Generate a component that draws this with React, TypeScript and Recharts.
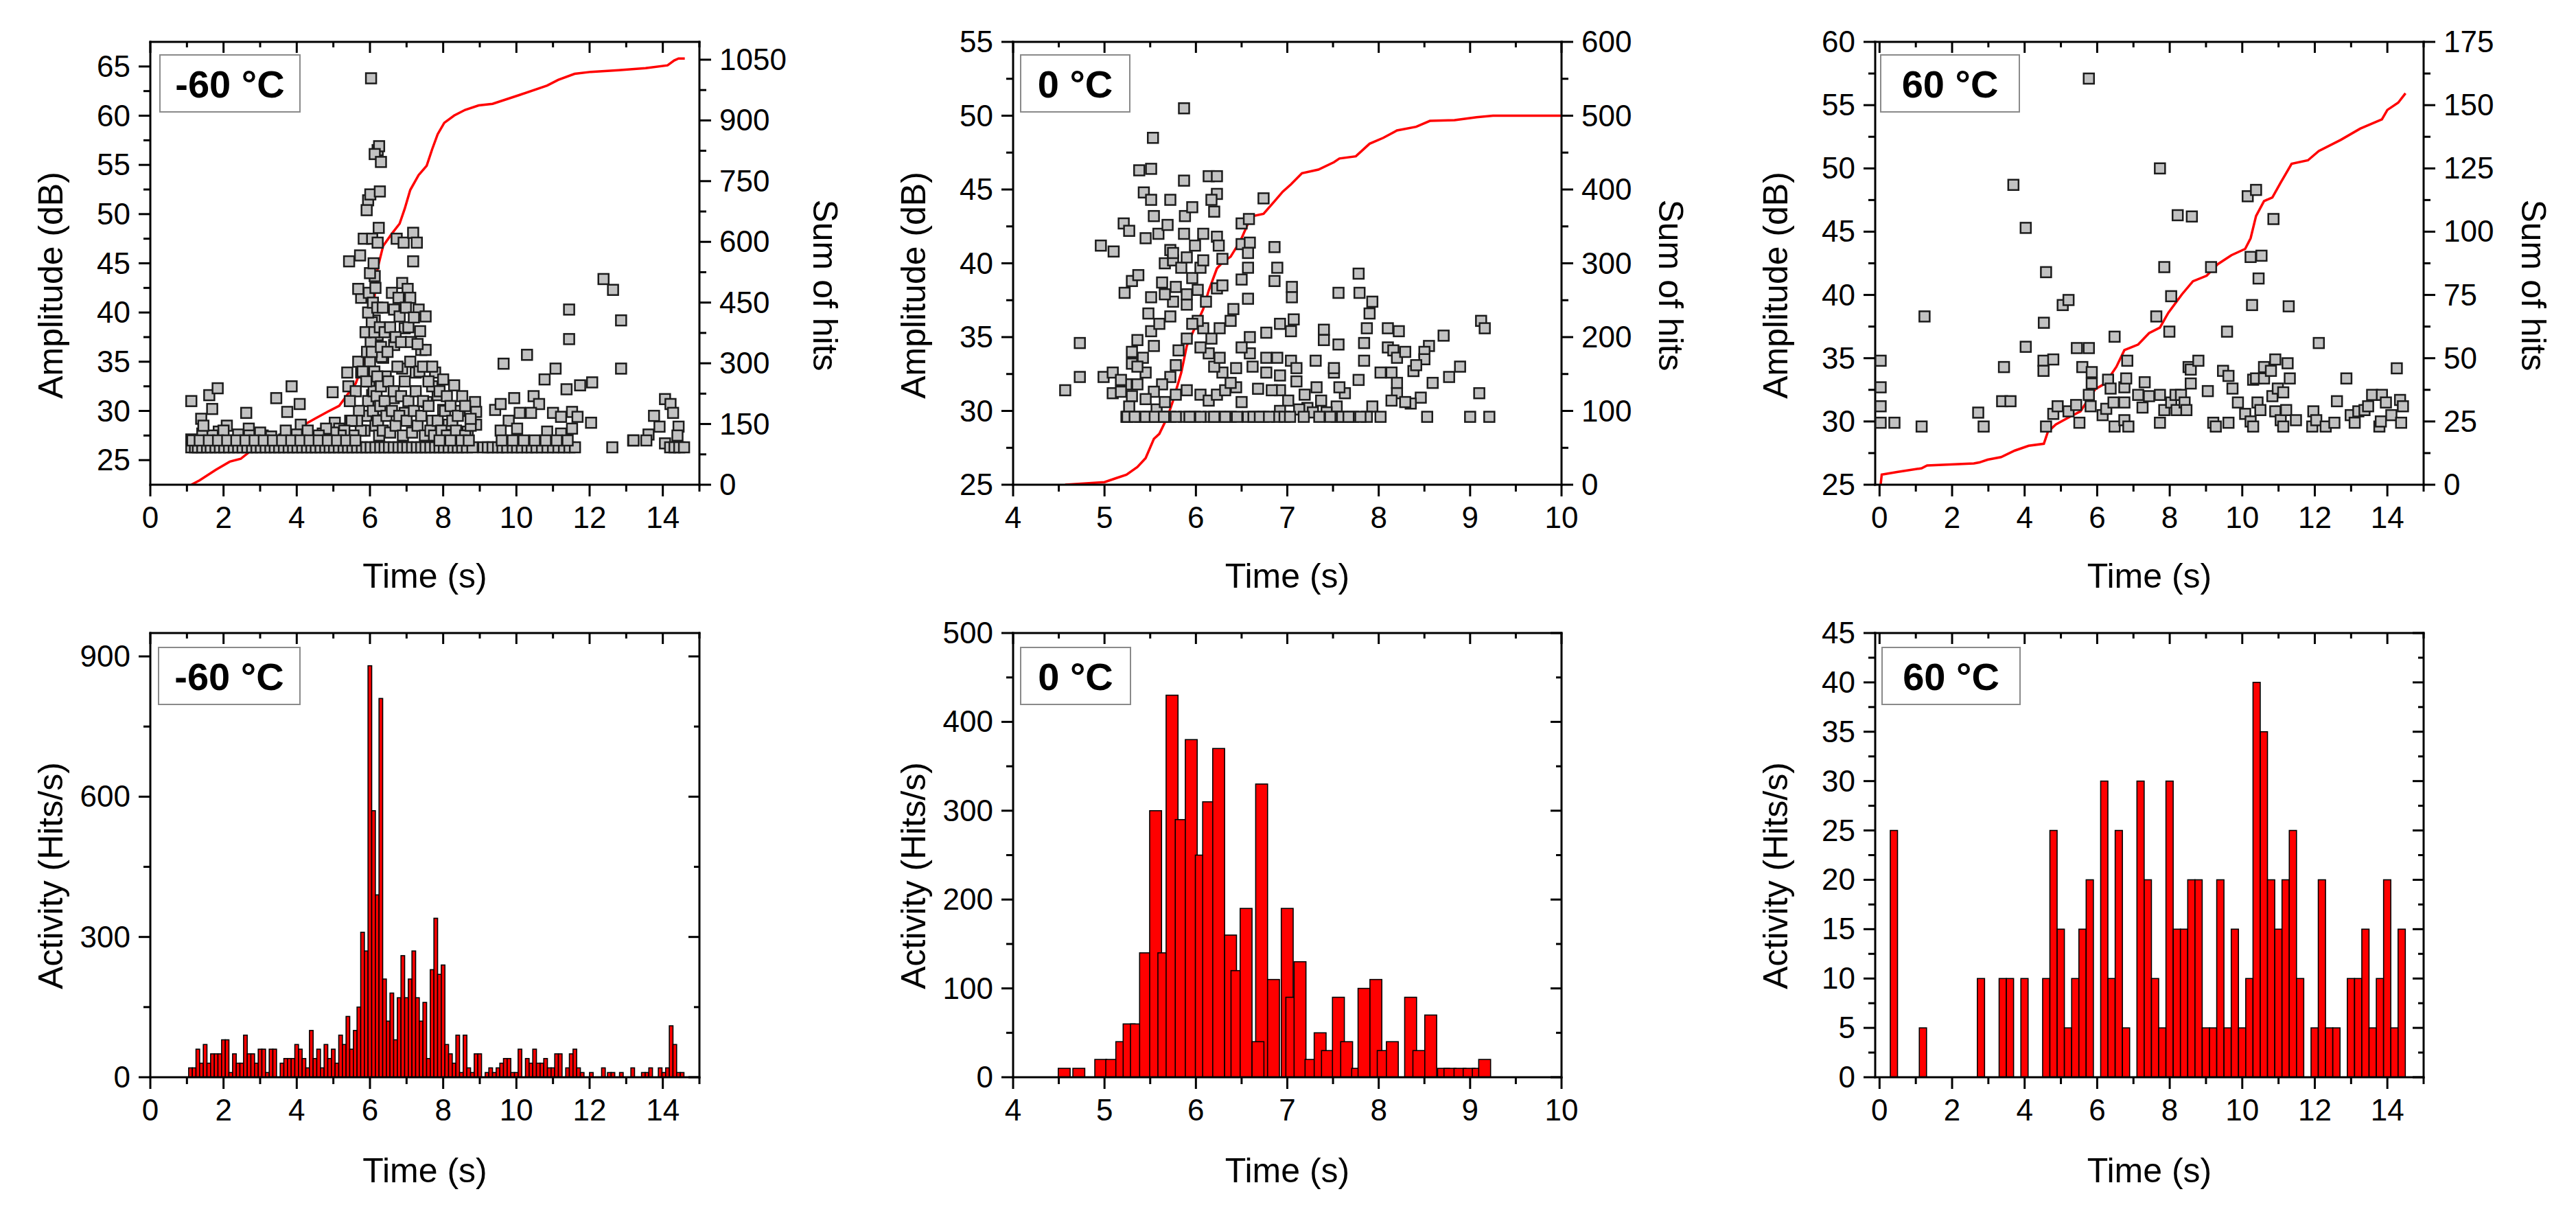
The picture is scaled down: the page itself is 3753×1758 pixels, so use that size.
import { Bar, BarChart, ComposedChart, Line, Scatter, XAxis, YAxis } from 'recharts';

const FONT = '"Liberation Sans", Arial, Helvetica, sans-serif';
const INK = '#000';
const RED = '#ff0000';
const LEFT_W = 200; // left axis band (labels + title)
const TOP_H = 40; // margin.top + top axis height

// ---------- -60 °C : amplitude scatter ----------
const m60Hits: [number, number][] = [
  [1.12, 31.0], [1.39, 29.2], [1.61, 31.6], [1.69, 30.2], [1.84, 32.3], [1.42, 27.7], [1.12, 27.1],
  [2.09, 28.5], [1.87, 27.9], [2.62, 29.8], [2.69, 28.2], [3.44, 31.3], [3.86, 32.5], [3.74, 29.9],
  [4.08, 30.7], [4.11, 28.6], [4.98, 31.9], [5.04, 28.8], [5.38, 33.9], [5.41, 32.5], [5.43, 45.2],
  [5.73, 45.8], [5.83, 47.5], [6.03, 63.8], [6.21, 56.5], [6.25, 56.9], [6.13, 56.1], [6.3, 55.3],
  [5.95, 51.4], [5.91, 50.4], [6.01, 52.0], [6.27, 52.3], [6.24, 48.6], [6.06, 47.5], [6.21, 47.1],
  [6.73, 47.5], [6.92, 47.1], [7.18, 48.1], [7.28, 47.1], [7.18, 45.2], [6.88, 43.0], [7.03, 42.4],
  [7.1, 41.5], [7.33, 40.3], [7.52, 39.6], [6.95, 38.4], [7.37, 38.1], [7.4, 36.2], [7.52, 36.2],
  [5.76, 41.5], [5.68, 42.4], [6.13, 43.7], [6.13, 39.2], [6.66, 40.3], [6.81, 39.6], [6.21, 37.7],
  [6.66, 36.7], [6.36, 35.4], [5.68, 35.0], [5.76, 33.9], [6.43, 33.5], [6.88, 34.3], [7.25, 33.9],
  [7.78, 33.9], [8.0, 33.2], [8.3, 32.6], [8.52, 31.5], [8.87, 30.9], [8.9, 29.9], [8.9, 28.6],
  [8.67, 27.9], [8.45, 27.1], [8.0, 30.1], [7.7, 29.0], [8.15, 28.6], [7.85, 31.6], [7.55, 30.9],
  [6.65, 31.3], [6.95, 29.8], [6.36, 30.1], [6.06, 31.6], [5.61, 32.0], [5.46, 29.0], [5.16, 28.2],
  [4.71, 27.7], [4.49, 27.1], [3.66, 27.1], [3.07, 27.5], [2.32, 26.7], [1.79, 27.3], [9.65, 34.8],
  [10.29, 35.7], [11.44, 40.3], [11.44, 37.3], [12.38, 43.4], [12.64, 42.3], [12.86, 39.2],
  [12.86, 34.3], [11.07, 34.3], [10.77, 33.2], [11.37, 32.2], [11.74, 32.6], [12.07, 32.9],
  [12.04, 28.8], [13.19, 27.0], [13.61, 27.6], [13.76, 29.5], [14.06, 31.2], [14.21, 30.7],
  [14.28, 29.8], [14.43, 28.4], [14.4, 27.5], [13.91, 28.4], [14.06, 26.7], [9.42, 30.1],
  [9.57, 30.7], [9.94, 31.3], [10.47, 31.5], [10.62, 30.7], [10.09, 29.8], [9.79, 29.0],
  [10.4, 29.8], [11.0, 29.8], [11.22, 29.4], [11.52, 29.9], [11.67, 29.4], [10.84, 27.9],
  [11.22, 27.7], [10.02, 28.2], [9.57, 28.0], [11.52, 28.2],
  // dense burst around 6-8 s
  [5.85, 28], [5.9, 29.5], [5.95, 31], [5.98, 33], [6.0, 35], [6.02, 37], [6.05, 39], [5.92, 36],
  [5.88, 38], [6.08, 30], [6.1, 32], [6.12, 34], [6.15, 28.5], [6.18, 31.5], [6.2, 33.5], [6.22, 29],
  [6.25, 27.5], [6.28, 30.5], [6.3, 32.5], [6.32, 35.5], [6.35, 28], [6.4, 31], [6.45, 29.5],
  [6.5, 33], [6.55, 27.8], [6.6, 30], [6.65, 32], [6.7, 28.5], [6.75, 34.5], [6.8, 29.5],
  [6.85, 31.5], [6.9, 27.5], [6.95, 33], [7.0, 29], [7.05, 31], [7.1, 35], [7.15, 27.8], [7.2, 30],
  [7.25, 32], [7.3, 28.5], [7.35, 34], [7.4, 29.5], [7.45, 31], [7.5, 27.5], [7.6, 30.5], [7.65, 28],
  [7.7, 32.5], [7.75, 27.5], [7.85, 29], [7.95, 28], [8.05, 30], [8.1, 27.5], [8.25, 29], [8.35, 28],
  [8.45, 30], [8.6, 27.5], [8.75, 28.5], [5.7, 30], [5.75, 28], [5.8, 34], [5.65, 29], [5.55, 27.5],
  [5.5, 29], [5.45, 31], [5.3, 28], [5.2, 27.5], [5.0, 27.8], [4.8, 28.2], [4.6, 27.5], [4.3, 28],
  [4.0, 27.6], [3.7, 28], [3.3, 27.4], [3.0, 27.8], [2.7, 27.5], [2.4, 27.6], [2.0, 28], [1.7, 27.5],
  [1.45, 28.5], [5.95, 40], [5.97, 42], [6.0, 44], [6.08, 41], [6.1, 45], [6.15, 42.5], [6.05, 36],
  [6.12, 38], [5.9, 33], [6.2, 40.5], [6.27, 38.5], [6.3, 36.5], [6.35, 40.5], [6.4, 38], [6.48, 36],
  [6.55, 38.5], [6.6, 42], [6.7, 37.5], [6.78, 41.5], [6.85, 37], [6.98, 40.5], [7.05, 38.5],
  [7.12, 37], [7.2, 39.5], [7.3, 36.8], [7.45, 34.5], [7.6, 33], [7.7, 34.5], [7.9, 32], [8.1, 31.5],
  [8.2, 30.5], [8.4, 29.5], [8.6, 30.5], [8.75, 29.2],
];
// hits sitting on the 26.3 dB threshold row
const m60FloorTimes = [
  1.12, 1.22, 1.3, 1.42, 1.55, 1.65, 1.78, 1.9, 2.02, 2.15, 2.28, 2.4, 2.52, 2.65, 2.78, 2.9, 3.02,
  3.15, 3.28, 3.4, 3.52, 3.65, 3.78, 3.9, 4.02, 4.15, 4.28, 4.4, 4.52, 4.65, 4.78, 4.9, 5.02, 5.15,
  5.28, 5.4, 5.52, 5.65, 5.78, 5.9, 6.02, 6.15, 6.28, 6.4, 6.52, 6.65, 6.78, 6.9, 7.02, 7.15, 7.28,
  7.4, 7.52, 7.65, 7.78, 7.9, 8.02, 8.15, 8.28, 8.4, 8.52, 8.65, 8.8, 9.1, 9.22, 9.35, 9.5, 9.62,
  9.75, 9.9, 10.02, 10.15, 10.3, 10.42, 10.55, 10.7, 10.85, 11.0, 11.15, 11.3, 11.45, 11.6, 12.62,
  14.2, 14.32, 14.45, 14.58,
];
const m60SecondRowTimes = [
  1.15, 1.35, 1.6, 1.85, 2.1, 2.35, 2.6, 2.85, 3.1, 3.35, 3.6, 3.85, 4.1, 4.35, 4.6, 4.85, 5.1, 5.35,
  5.6, 7.9, 8.2, 8.5, 8.7, 9.6, 9.9, 10.2, 10.5, 10.8, 11.1, 11.4, 13.2, 13.55,
];
const m60Sum: [number, number][] = [
  [1.12, 0], [1.35, 11], [1.79, 37], [2.17, 57], [2.47, 64], [2.69, 80], [3.21, 108], [3.66, 121],
  [4.04, 140], [4.49, 163], [4.86, 181], [5.16, 195], [5.38, 222], [5.61, 250], [5.76, 287],
  [5.91, 324], [6.03, 370], [6.1, 443], [6.21, 535], [6.36, 590], [6.58, 618], [6.81, 645],
  [6.95, 682], [7.1, 728], [7.33, 765], [7.55, 788], [7.7, 829], [7.85, 866], [8.03, 894],
  [8.3, 912], [8.6, 926], [8.97, 937], [9.35, 941], [10.09, 963], [10.84, 986], [11.14, 1000],
  [11.59, 1015], [12.04, 1020], [12.79, 1024], [13.53, 1029], [14.13, 1036], [14.31, 1048],
  [14.43, 1053], [14.6, 1053],
];

// ---------- 0 °C ----------
const z0Hits: [number, number][] = [
  [4.57, 31.4], [4.73, 34.6], [4.73, 32.3], [4.96, 41.2], [5.1, 40.8], [4.99, 32.3], [5.09, 32.6],
  [5.09, 31.2], [5.21, 42.7], [5.27, 42.2], [5.24, 29.6], [5.22, 38.0], [5.3, 38.8], [5.3, 34.0],
  [5.3, 33.2], [5.37, 39.2], [5.38, 46.3], [5.51, 46.4], [5.53, 48.5], [5.43, 44.8], [5.51, 44.3],
  [5.54, 43.2], [5.45, 41.7], [5.59, 42.0], [5.72, 44.3], [5.87, 50.5], [5.87, 45.6], [5.88, 43.2],
  [5.96, 43.8], [5.87, 42.0], [5.69, 42.6], [5.72, 40.9], [5.66, 40.0], [5.75, 40.2], [5.84, 39.7],
  [5.96, 39.0], [6.14, 45.9], [6.23, 45.9], [6.23, 44.7], [6.17, 44.3], [6.2, 43.5], [6.08, 42.0],
  [6.23, 41.8], [6.25, 41.2], [6.29, 40.3], [6.23, 38.3], [6.29, 38.5], [6.5, 42.7], [6.5, 41.3],
  [6.58, 43.0], [6.59, 41.4], [6.57, 40.7], [6.57, 39.7], [6.5, 38.9], [6.57, 37.6], [6.74, 44.4],
  [6.86, 41.1], [6.89, 39.7], [6.86, 38.8], [7.05, 38.4], [7.05, 37.7], [7.07, 36.2], [6.92, 35.9],
  [7.04, 35.4], [6.77, 35.3], [7.56, 38.0], [7.56, 34.5], [7.4, 35.5], [7.4, 34.8], [7.78, 39.3],
  [7.79, 38.0], [7.93, 37.4], [7.9, 36.6], [7.87, 35.6], [7.84, 34.6], [8.1, 35.6], [8.22, 35.4],
  [8.1, 34.3], [8.16, 34.1], [8.55, 34.4], [8.5, 34.0], [8.71, 35.1], [8.5, 33.5], [8.38, 32.7],
  [8.89, 33.0], [8.77, 32.3], [8.59, 31.9], [8.46, 30.9], [8.35, 30.5], [8.53, 29.6], [9.0, 29.6],
  [9.21, 29.6], [9.12, 36.1], [9.16, 35.6], [9.1, 31.2], [7.84, 33.4], [8.02, 32.6], [8.14, 32.6],
  [8.2, 31.9], [8.2, 31.2], [7.93, 30.3], [8.02, 29.6], [7.78, 32.1], [7.63, 31.2], [7.51, 32.6],
  [7.57, 31.6], [7.54, 30.3], [7.54, 29.6], [7.72, 29.6], [7.87, 29.6], [7.51, 32.9], [7.31, 33.4],
  [7.32, 31.6], [7.37, 30.7], [7.22, 30.2], [7.13, 30.1], [7.1, 32.0], [7.04, 33.4], [7.1, 32.9],
  [6.92, 32.4], [6.92, 31.4], [7.01, 30.7], [6.92, 30.0], [6.74, 29.6], [6.89, 29.6], [6.77, 33.6],
  [6.89, 33.6], [6.77, 32.6], [6.83, 31.4], [6.68, 31.5], [6.62, 33.0], [6.59, 33.9], [6.59, 35.0],
  [6.5, 34.3], [6.44, 32.9], [6.44, 31.6], [6.5, 30.6], [6.57, 29.6], [6.38, 29.6], [6.26, 29.6],
  [6.14, 29.6], [5.99, 29.6], [5.87, 29.6], [5.72, 29.6], [5.6, 29.6], [5.48, 29.6], [5.39, 29.6],
  [5.57, 30.1], [5.66, 30.6], [5.78, 31.1], [5.9, 31.4], [6.05, 31.1], [6.14, 30.7], [6.23, 31.1],
  [6.32, 31.4], [6.38, 31.9], [6.29, 32.6], [6.2, 33.0], [6.26, 33.6], [6.14, 33.9], [6.05, 34.3],
  [6.17, 34.9], [6.26, 35.6], [6.38, 36.1], [6.41, 36.9], [6.08, 35.6], [6.02, 36.1], [6.11, 37.4],
  [5.9, 37.2], [5.96, 35.9], [5.9, 34.9], [5.81, 34.1], [5.78, 33.1], [5.72, 32.3], [5.63, 31.8],
  [5.54, 31.3], [5.45, 30.8], [5.36, 31.8], [5.45, 32.6], [5.42, 33.6], [5.54, 34.4], [5.51, 35.4],
  [5.6, 35.9], [5.72, 36.4], [5.75, 37.4], [5.66, 37.9], [5.51, 37.7], [5.48, 36.6], [5.63, 38.7],
  [5.78, 38.4], [5.9, 37.9], [6.02, 38.2], [6.05, 39.7], [6.08, 40.2], [5.9, 40.4], [5.75, 40.7],
  [5.99, 41.2], [5.24, 31.8], [5.18, 31.3], [5.3, 31.0], [5.27, 30.3], [5.18, 32.1], [5.36, 34.8],
  [5.36, 33.0], [7.28, 29.9], [7.43, 29.9], [7.19, 31.1], [8.14, 30.7], [8.29, 30.6], [8.2, 33.6],
  [8.41, 33.1], [8.29, 34.0],
];
const z0FloorTimes = [
  5.25, 5.33, 5.45, 5.55, 5.65, 5.78, 5.93, 6.05, 6.2, 6.32, 6.45, 6.63, 6.7, 6.8, 6.97, 7.03, 7.18,
  7.35, 7.47, 7.6, 7.67, 7.8,
];
const z0Sum: [number, number][] = [
  [4.57, 0], [5.0, 3.5], [5.12, 8.6], [5.24, 13.6], [5.36, 24], [5.45, 36], [5.54, 62], [5.6, 69],
  [5.69, 92], [5.75, 114], [5.84, 152], [5.9, 188], [5.99, 213], [6.08, 238], [6.14, 263],
  [6.23, 293], [6.29, 301], [6.38, 309], [6.44, 321], [6.5, 334], [6.57, 354], [6.62, 364],
  [6.74, 367], [6.86, 384], [6.95, 397], [7.04, 407], [7.16, 422], [7.34, 427], [7.51, 437],
  [7.57, 442], [7.75, 445], [7.9, 462], [8.05, 470], [8.2, 480], [8.41, 485], [8.56, 493],
  [8.83, 494], [9.07, 498], [9.25, 500], [10, 500],
];

// ---------- 60 °C ----------
const p60Hits: [number, number][] = [
  [0.03, 34.8], [0.03, 32.7], [0.03, 31.2], [0.03, 29.9], [0.41, 29.9], [1.24, 38.3], [1.16, 29.6],
  [2.72, 30.7], [2.87, 29.6], [3.43, 34.3], [3.38, 31.6], [3.61, 31.6], [3.69, 48.7], [4.03, 45.3],
  [4.03, 35.9], [4.53, 37.8], [4.52, 34.8], [4.52, 34.0], [4.59, 41.8], [4.59, 29.6], [4.79, 34.9],
  [4.79, 30.6], [4.91, 31.2], [5.05, 39.2], [5.21, 39.6], [5.21, 30.8], [5.42, 31.3], [5.44, 35.8],
  [5.77, 35.8], [5.51, 29.9], [5.59, 34.3], [5.77, 57.1], [5.85, 33.9], [5.85, 33.0], [5.77, 32.1],
  [5.82, 31.2], [6.15, 30.5], [6.25, 31.0], [6.3, 33.3], [6.37, 32.6], [6.45, 31.5], [6.48, 29.6],
  [6.48, 36.7], [6.75, 31.5], [6.75, 32.7], [6.8, 33.4], [6.75, 30.1], [6.86, 29.6], [6.83, 34.8],
  [7.13, 32.1], [7.25, 31.1], [7.31, 33.1], [7.43, 32.0], [7.73, 50.0], [7.63, 38.3], [7.85, 42.2],
  [7.73, 32.1], [7.73, 29.9], [7.85, 30.9], [8.04, 39.9], [7.99, 37.1], [8.04, 31.5], [8.16, 32.1],
  [8.22, 46.3], [8.19, 30.9], [8.31, 32.1], [8.41, 31.5], [8.46, 30.9], [8.52, 34.3], [8.58, 34.1],
  [8.61, 46.2], [8.58, 33.0], [8.79, 34.8], [9.05, 32.4], [9.14, 42.2], [9.2, 29.9], [9.27, 29.6],
  [9.47, 34.0], [9.58, 37.1], [9.62, 33.6], [9.62, 29.9], [9.73, 32.6], [9.88, 31.5], [10.08, 30.6],
  [10.15, 47.8], [10.23, 30.0], [10.23, 43.0], [10.27, 39.2], [10.3, 29.6], [10.3, 33.3],
  [10.38, 48.3], [10.38, 33.4], [10.42, 31.5], [10.45, 41.3], [10.53, 43.1], [10.5, 30.9],
  [10.6, 33.4], [10.6, 34.3], [10.79, 34.0], [10.86, 46.0], [10.91, 34.9], [10.83, 32.0],
  [10.91, 30.8], [10.98, 32.6], [11.06, 30.1], [11.13, 32.3], [11.13, 29.6], [11.21, 30.9],
  [11.25, 34.6], [11.31, 33.4], [11.28, 39.1], [11.48, 30.1], [11.96, 30.8], [11.93, 29.6],
  [12.04, 30.1], [12.11, 36.2], [12.3, 29.6], [12.54, 29.9], [12.61, 31.6], [12.87, 33.4],
  [12.99, 30.5], [13.1, 29.9], [13.2, 30.8], [13.37, 30.9], [13.47, 31.2], [13.58, 32.1],
  [13.78, 29.6], [13.82, 30.0], [13.85, 32.1], [13.96, 31.5], [14.11, 30.5], [14.26, 34.2],
  [14.35, 31.7], [14.38, 29.9], [14.43, 31.2],
];
const p60Sum: [number, number][] = [
  [0.03, 0], [0.06, 4], [0.48, 5], [1.16, 6.5], [1.31, 7.6], [2.6, 8.4], [2.75, 8.8], [2.98, 9.9],
  [3.35, 10.9], [3.73, 13.5], [4.11, 15.4], [4.53, 16.2], [4.64, 20.9], [4.86, 23.8], [5.24, 26.8],
  [5.54, 29.0], [5.77, 34.1], [5.95, 37.8], [6.22, 40.0], [6.53, 46.6], [6.75, 53.2], [7.13, 55.4],
  [7.43, 59.9], [7.73, 62.1], [7.96, 67.9], [8.34, 75.3], [8.64, 80.4], [9.02, 82.6], [9.32, 87.1],
  [9.7, 90.7], [10.08, 93.2], [10.23, 97.4], [10.38, 106.2], [10.6, 112.1], [10.83, 113.5],
  [11.06, 119.4], [11.36, 126.8], [11.81, 128.2], [12.11, 131.9], [12.72, 136.3], [13.25, 140.7],
  [13.85, 144.4], [14.0, 148.1], [14.3, 151.0], [14.5, 154.7],
];

// ---------- activity histograms (time, hits/s) ----------
const m60Rate: [number, number][] = [
  [1.1, 20], [1.2, 20], [1.3, 60], [1.4, 30], [1.5, 70], [1.6, 30], [1.7, 50], [1.8, 50], [1.9, 50],
  [2.0, 80], [2.1, 80], [2.2, 10], [2.3, 50], [2.4, 30], [2.5, 30], [2.6, 90], [2.7, 50], [2.8, 50],
  [2.9, 30], [3.0, 60], [3.1, 60], [3.2, 10], [3.3, 60], [3.4, 60], [3.5, 0], [3.6, 30], [3.7, 40],
  [3.8, 40], [3.9, 40], [4.0, 70], [4.1, 60], [4.2, 40], [4.3, 20], [4.4, 100], [4.5, 40], [4.6, 60],
  [4.7, 20], [4.8, 70], [4.9, 40], [5.0, 60], [5.1, 30], [5.2, 90], [5.3, 70], [5.4, 130], [5.5, 60],
  [5.6, 100], [5.7, 150], [5.8, 310], [5.9, 270], [6.0, 880], [6.1, 570], [6.2, 390], [6.3, 810],
  [6.4, 210], [6.5, 120], [6.6, 180], [6.7, 80], [6.8, 170], [6.9, 260], [7.0, 170], [7.1, 210],
  [7.2, 270], [7.3, 170], [7.4, 120], [7.5, 160], [7.6, 40], [7.7, 230], [7.8, 340], [7.9, 220],
  [8.0, 240], [8.1, 70], [8.2, 50], [8.3, 30], [8.4, 90], [8.5, 10], [8.6, 90], [8.7, 20], [8.8, 10],
  [8.9, 50], [9.0, 50], [9.1, 0], [9.2, 10], [9.3, 20], [9.4, 10], [9.5, 20], [9.6, 30], [9.7, 40],
  [9.8, 40], [9.9, 10], [10.0, 10], [10.1, 60], [10.2, 0], [10.3, 40], [10.4, 30], [10.5, 60],
  [10.6, 30], [10.7, 30], [10.8, 40], [10.9, 20], [11.0, 20], [11.1, 50], [11.2, 50], [11.3, 0],
  [11.4, 20], [11.5, 50], [11.6, 60], [11.7, 20], [11.8, 10], [12.05, 10], [12.38, 20], [12.54, 10],
  [12.64, 10], [12.87, 10], [13.18, 20], [13.47, 10], [13.57, 10], [13.67, 20], [13.93, 20],
  [14.03, 10], [14.13, 20], [14.23, 110], [14.33, 70], [14.43, 10], [14.53, 10],
];
const z0Rate: [number, number][] = [
  [4.56, 10], [4.72, 10], [4.96, 20], [5.08, 20], [5.19, 40], [5.27, 60], [5.35, 60], [5.45, 140],
  [5.56, 300], [5.65, 140], [5.74, 430], [5.84, 290], [5.95, 380], [6.06, 250], [6.14, 310],
  [6.25, 370], [6.38, 160], [6.45, 120], [6.55, 190], [6.72, 330], [6.68, 40], [6.85, 110],
  [7.0, 190], [7.05, 90], [7.14, 130], [7.26, 20], [7.36, 50], [7.44, 30], [7.56, 90], [7.65, 40],
  [7.77, 10], [7.84, 100], [7.97, 110], [8.05, 30], [8.15, 40], [8.35, 90], [8.44, 30], [8.57, 70],
  [8.71, 10], [8.78, 10], [8.89, 10], [8.99, 10], [9.09, 10], [9.16, 20],
];
const p60Rate: [number, number][] = [
  [0.4, 25], [1.2, 5], [2.8, 10], [3.4, 10], [3.6, 10], [4.0, 10], [4.6, 10], [4.8, 25], [5.0, 15],
  [5.2, 5], [5.4, 10], [5.6, 15], [5.8, 20], [6.2, 30], [6.4, 10], [6.6, 25], [6.8, 5], [7.2, 30],
  [7.4, 20], [7.6, 10], [7.8, 5], [8.0, 30], [8.2, 15], [8.4, 15], [8.6, 20], [8.8, 20], [9.0, 5],
  [9.2, 5], [9.4, 20], [9.6, 5], [9.8, 15], [10.0, 5], [10.2, 10], [10.4, 40], [10.6, 35],
  [10.8, 20], [11.0, 15], [11.2, 20], [11.4, 25], [11.6, 10], [12.0, 5], [12.2, 20], [12.4, 5],
  [12.6, 5], [13.0, 10], [13.2, 10], [13.4, 15], [13.6, 5], [13.8, 10], [14.0, 20], [14.2, 5],
  [14.4, 15],
];

// ---------- axis ticks ----------
const timeMajor15 = [0, 2, 4, 6, 8, 10, 12, 14];
const timeMinor15 = [1, 3, 5, 7, 9, 11, 13, 15];
const timeMajor0 = [4, 5, 6, 7, 8, 9, 10];
const timeMinor0 = [4.5, 5.5, 6.5, 7.5, 8.5, 9.5];
const ampMajorM60 = [25, 30, 35, 40, 45, 50, 55, 60, 65];
const ampMinorM60 = [27.5, 32.5, 37.5, 42.5, 47.5, 52.5, 57.5, 62.5];
const sumMajorM60 = [0, 150, 300, 450, 600, 750, 900, 1050];
const sumMinorM60 = [75, 225, 375, 525, 675, 825, 975];
const ampMajor0 = [25, 30, 35, 40, 45, 50, 55];
const ampMinor0 = [27.5, 32.5, 37.5, 42.5, 47.5, 52.5];
const sumMajor0 = [0, 100, 200, 300, 400, 500, 600];
const sumMinor0 = [50, 150, 250, 350, 450, 550];
const ampMajor60 = [25, 30, 35, 40, 45, 50, 55, 60];
const ampMinor60 = [27.5, 32.5, 37.5, 42.5, 47.5, 52.5, 57.5];
const sumMajor60 = [0, 25, 50, 75, 100, 125, 150, 175];
const sumMinor60 = [12.5, 37.5, 62.5, 87.5, 112.5, 137.5, 162.5];
const rateMajorM60 = [0, 300, 600, 900];
const rateMinorM60 = [150, 450, 750];
const rateMajor0 = [0, 100, 200, 300, 400, 500];
const rateMinor0 = [50, 150, 250, 350, 450];
const rateMajor60 = [0, 5, 10, 15, 20, 25, 30, 35, 40, 45];
const rateMinor60 = [2.5, 7.5, 12.5, 17.5, 22.5, 27.5, 32.5, 37.5, 42.5];

const AXIS_LINE = { stroke: INK, strokeWidth: 3, strokeLinecap: 'square' as const };

const hasTick = (list: number[], v: number) => list.some((m) => Math.abs(m - v) < 1e-6);
const merge = (a: number[], b: number[]) => [...a, ...b].sort((p, q) => p - q);

function renderXTick(props: any, major: number[], side: 'bottom' | 'top') {
  const { x, y, payload } = props;
  const v = payload.value as number;
  const big = hasTick(major, v);
  const len = side === 'bottom' ? (big ? 17 : 10) : big ? 16 : 8;
  return (
    <g>
      <line x1={x} x2={x} y1={y} y2={y + len} stroke={INK} strokeWidth={3} />
      {side === 'bottom' && big ? (
        <text x={x} y={y + 63} textAnchor="middle" fontFamily={FONT} fontSize={44} fill={INK}>
          {v}
        </text>
      ) : null}
    </g>
  );
}

function renderYTick(props: any, major: number[], side: 'left' | 'right', inward: boolean) {
  const { x, y, payload } = props;
  const v = payload.value as number;
  const big = hasTick(major, v);
  const len = inward ? (big ? 16 : 8) : big ? 17 : 10;
  const dir = side === 'left' ? -1 : 1;
  const s = inward ? -dir : dir;
  return (
    <g>
      <line x1={x} x2={x + s * len} y1={y} y2={y} stroke={INK} strokeWidth={3} />
      {!inward && big ? (
        <text
          x={x + dir * 29}
          y={y + 15}
          textAnchor={side === 'left' ? 'end' : 'start'}
          fontFamily={FONT}
          fontSize={44}
          fill={INK}
        >
          {v}
        </text>
      ) : null}
    </g>
  );
}

function AxisTitle({ tx, ty, rot = 0, text }: { tx: number; ty: number; rot?: number; text: string }) {
  return (
    <text
      x={tx}
      y={ty}
      transform={rot ? `rotate(${rot} ${tx} ${ty})` : undefined}
      textAnchor="middle"
      dominantBaseline={rot ? 'central' : 'auto'}
      fontFamily={FONT}
      fontSize={50}
      fill={INK}
    >
      {text}
    </text>
  );
}

function TagBox({ bx, by, bw, text }: { bx: number; by: number; bw: number; text: string }) {
  return (
    <g>
      <rect x={bx} y={by} width={bw} height={83} fill="none" stroke="#8a8a8a" strokeWidth={2} />
      <text
        x={bx + bw / 2}
        y={by + 62}
        textAnchor="middle"
        fontFamily={FONT}
        fontSize={56}
        fontWeight="bold"
        fill={INK}
      >
        {text}
      </text>
    </g>
  );
}

function renderSquare(props: any) {
  const { cx, cy } = props;
  if (cx == null || cy == null) return <g />;
  return (
    <rect x={cx - 7.5} y={cy - 7.5} width={15} height={15} fill="#c2c2c2" stroke="#1c1c1c" strokeWidth={2.5} />
  );
}

// bars keep the library's x centre and height, but use the bin width
function renderBin(props: any, w: number) {
  const { x, y, width, height } = props;
  if (!height || height <= 0) return <g />;
  const cx = x + width / 2;
  return <rect x={cx - w / 2} y={y} width={w} height={height} fill={RED} stroke={INK} strokeWidth={1.6} />;
}

interface PanelFrame {
  plotLeft: number;
  plotTop: number;
  plotW: number;
  plotH: number;
  xDomain: [number, number];
  xMajor: number[];
  xMinor: number[];
  tag: string;
  tagDx: number;
  tagW: number;
}

interface ScatterPanelProps extends PanelFrame {
  ampDomain: [number, number];
  ampMajor: number[];
  ampMinor: number[];
  sumDomain: [number, number];
  sumMajor: number[];
  sumMinor: number[];
  sumTitleDx: number;
  points: { t: number; a: number }[];
  sums: { t: number; s: number }[];
}

function ScatterPanel(p: ScatterPanelProps) {
  const rightW = 250;
  const bottomH = 170;
  const W = LEFT_W + p.plotW + rightW;
  const H = TOP_H + p.plotH + bottomH;
  const midY = TOP_H + p.plotH / 2 + 32;
  return (
    <div style={{ position: 'absolute', left: p.plotLeft - LEFT_W, top: p.plotTop - TOP_H }}>
      <ComposedChart width={W} height={H} margin={{ top: TOP_H - 2, right: 0, bottom: 0, left: 0 }}>
        <XAxis
          xAxisId="b"
          dataKey="t"
          type="number"
          domain={p.xDomain}
          allowDataOverflow
          ticks={merge(p.xMajor, p.xMinor)}
          interval={0}
          height={bottomH}
          tickSize={0}
          tickMargin={0}
          tickLine={false}
          axisLine={AXIS_LINE}
          tick={(t: any) => renderXTick(t, p.xMajor, 'bottom')}
          label={<AxisTitle tx={LEFT_W + p.plotW / 2} ty={TOP_H + p.plotH + 150} text="Time (s)" />}
        />
        <XAxis
          xAxisId="t"
          orientation="top"
          dataKey="t"
          type="number"
          domain={p.xDomain}
          allowDataOverflow
          ticks={merge(p.xMajor, p.xMinor)}
          interval={0}
          height={2}
          tickSize={0}
          tickMargin={0}
          tickLine={false}
          axisLine={AXIS_LINE}
          tick={(t: any) => renderXTick(t, p.xMajor, 'top')}
          label={<TagBox bx={LEFT_W + p.tagDx} by={TOP_H + 19} bw={p.tagW} text={p.tag} />}
        />
        <YAxis
          yAxisId="l"
          dataKey="a"
          type="number"
          domain={p.ampDomain}
          allowDataOverflow
          ticks={merge(p.ampMajor, p.ampMinor)}
          interval={0}
          width={LEFT_W}
          tickSize={0}
          tickMargin={0}
          tickLine={false}
          axisLine={AXIS_LINE}
          tick={(t: any) => renderYTick(t, p.ampMajor, 'left', false)}
          label={<AxisTitle tx={LEFT_W - 145} ty={midY} rot={-90} text="Amplitude (dB)" />}
        />
        <YAxis
          yAxisId="r"
          orientation="right"
          type="number"
          domain={p.sumDomain}
          allowDataOverflow
          ticks={merge(p.sumMajor, p.sumMinor)}
          interval={0}
          width={rightW}
          tickSize={0}
          tickMargin={0}
          tickLine={false}
          axisLine={AXIS_LINE}
          tick={(t: any) => renderYTick(t, p.sumMajor, 'right', false)}
          label={<AxisTitle tx={LEFT_W + p.plotW + p.sumTitleDx} ty={midY} rot={90} text="Sum of hits" />}
        />
        <Scatter
          xAxisId="b"
          yAxisId="l"
          data={p.points}
          dataKey="a"
          shape={renderSquare}
          isAnimationActive={false}
        />
        <Line
          xAxisId="b"
          yAxisId="r"
          data={p.sums}
          dataKey="s"
          type="linear"
          stroke={RED}
          strokeWidth={3.5}
          dot={false}
          activeDot={false}
          isAnimationActive={false}
        />
      </ComposedChart>
    </div>
  );
}

interface HistPanelProps extends PanelFrame {
  rateDomain: [number, number];
  rateMajor: number[];
  rateMinor: number[];
  barPx: number;
  bins: { t: number; v: number }[];
}

function HistPanel(p: HistPanelProps) {
  const rightW = 60;
  const bottomH = 180;
  const W = LEFT_W + p.plotW + rightW;
  const H = TOP_H + p.plotH + bottomH;
  const midY = TOP_H + p.plotH / 2 + 30;
  return (
    <div style={{ position: 'absolute', left: p.plotLeft - LEFT_W, top: p.plotTop - TOP_H }}>
      <BarChart width={W} height={H} data={p.bins} margin={{ top: TOP_H - 2, right: 0, bottom: 0, left: 0 }}>
        <XAxis
          xAxisId="b"
          dataKey="t"
          type="number"
          domain={p.xDomain}
          allowDataOverflow
          ticks={merge(p.xMajor, p.xMinor)}
          interval={0}
          height={bottomH}
          tickSize={0}
          tickMargin={0}
          tickLine={false}
          axisLine={AXIS_LINE}
          tick={(t: any) => renderXTick(t, p.xMajor, 'bottom')}
          label={<AxisTitle tx={LEFT_W + p.plotW / 2} ty={TOP_H + p.plotH + 153} text="Time (s)" />}
        />
        <XAxis
          xAxisId="t"
          orientation="top"
          dataKey="t"
          type="number"
          domain={p.xDomain}
          allowDataOverflow
          ticks={merge(p.xMajor, p.xMinor)}
          interval={0}
          height={2}
          tickSize={0}
          tickMargin={0}
          tickLine={false}
          axisLine={AXIS_LINE}
          tick={(t: any) => renderXTick(t, p.xMajor, 'top')}
          label={<TagBox bx={LEFT_W + p.tagDx} by={TOP_H + 21} bw={p.tagW} text={p.tag} />}
        />
        <YAxis
          yAxisId="l"
          type="number"
          domain={p.rateDomain}
          allowDataOverflow
          ticks={merge(p.rateMajor, p.rateMinor)}
          interval={0}
          width={LEFT_W}
          tickSize={0}
          tickMargin={0}
          tickLine={false}
          axisLine={AXIS_LINE}
          tick={(t: any) => renderYTick(t, p.rateMajor, 'left', false)}
          label={<AxisTitle tx={LEFT_W - 145} ty={midY} rot={-90} text="Activity (Hits/s)" />}
        />
        <YAxis
          yAxisId="r"
          orientation="right"
          type="number"
          domain={p.rateDomain}
          allowDataOverflow
          ticks={merge(p.rateMajor, p.rateMinor)}
          interval={0}
          width={rightW}
          tickSize={0}
          tickMargin={0}
          tickLine={false}
          axisLine={AXIS_LINE}
          tick={(t: any) => renderYTick(t, p.rateMajor, 'right', true)}
        />
        <Bar
          xAxisId="b"
          yAxisId="l"
          dataKey="v"
          fill={RED}
          stroke={INK}
          shape={(b: any) => renderBin(b, p.barPx)}
          isAnimationActive={false}
        />
      </BarChart>
    </div>
  );
}

const toHits = (rows: [number, number][]) => rows.map(([t, a]) => ({ t, a }));
const toSums = (rows: [number, number][]) => rows.map(([t, s]) => ({ t, s }));
const toBins = (rows: [number, number][]) => rows.filter(([, v]) => v > 0).map(([t, v]) => ({ t, v }));

export default function App() {
  const m60Points = [
    ...toHits(m60Hits),
    ...m60FloorTimes.map((t) => ({ t, a: 26.3 })),
    ...m60SecondRowTimes.map((t) => ({ t, a: 27.0 })),
  ];
  const z0Points = [...toHits(z0Hits), ...z0FloorTimes.map((t) => ({ t, a: 29.6 }))];

  return (
    <div
      style={{
        position: 'absolute',
        left: 0,
        top: 0,
        width: 3753,
        height: 1758,
        overflow: 'hidden',
        background: '#fff',
      }}
    >
      <ScatterPanel
        plotLeft={219}
        plotTop={61}
        plotW={800}
        plotH={645}
        xDomain={[0, 15]}
        xMajor={timeMajor15}
        xMinor={timeMinor15}
        ampDomain={[22.5, 67.5]}
        ampMajor={ampMajorM60}
        ampMinor={ampMinorM60}
        sumDomain={[0, 1094]}
        sumMajor={sumMajorM60}
        sumMinor={sumMinorM60}
        sumTitleDx={183}
        points={m60Points}
        sums={toSums(m60Sum)}
        tag="-60 °C"
        tagDx={14}
        tagW={204}
      />
      <ScatterPanel
        plotLeft={1476}
        plotTop={61}
        plotW={799}
        plotH={645}
        xDomain={[4, 10]}
        xMajor={timeMajor0}
        xMinor={timeMinor0}
        ampDomain={[25, 55]}
        ampMajor={ampMajor0}
        ampMinor={ampMinor0}
        sumDomain={[0, 600]}
        sumMajor={sumMajor0}
        sumMinor={sumMinor0}
        sumTitleDx={159}
        points={z0Points}
        sums={toSums(z0Sum)}
        tag="0 °C"
        tagDx={11}
        tagW={159}
      />
      <ScatterPanel
        plotLeft={2732}
        plotTop={61}
        plotW={799}
        plotH={645}
        xDomain={[-0.12, 15]}
        xMajor={timeMajor15}
        xMinor={timeMinor15}
        ampDomain={[25, 60]}
        ampMajor={ampMajor60}
        ampMinor={ampMinor60}
        sumDomain={[0, 175]}
        sumMajor={sumMajor60}
        sumMinor={sumMinor60}
        sumTitleDx={160}
        points={toHits(p60Hits)}
        sums={toSums(p60Sum)}
        tag="60 °C"
        tagDx={8}
        tagW={202}
      />
      <HistPanel
        plotLeft={219}
        plotTop={922}
        plotW={800}
        plotH={647}
        xDomain={[0, 15]}
        xMajor={timeMajor15}
        xMinor={timeMinor15}
        rateDomain={[0, 950]}
        rateMajor={rateMajorM60}
        rateMinor={rateMinorM60}
        barPx={5.3}
        bins={toBins(m60Rate)}
        tag="-60 °C"
        tagDx={12}
        tagW={206}
      />
      <HistPanel
        plotLeft={1476}
        plotTop={922}
        plotW={799}
        plotH={647}
        xDomain={[4, 10]}
        xMajor={timeMajor0}
        xMinor={timeMinor0}
        rateDomain={[0, 500]}
        rateMajor={rateMajor0}
        rateMinor={rateMinor0}
        barPx={17.3}
        bins={toBins(z0Rate)}
        tag="0 °C"
        tagDx={11}
        tagW={160}
      />
      <HistPanel
        plotLeft={2732}
        plotTop={922}
        plotW={799}
        plotH={647}
        xDomain={[-0.12, 15]}
        xMajor={timeMajor15}
        xMinor={timeMinor15}
        rateDomain={[0, 45]}
        rateMajor={rateMajor60}
        rateMinor={rateMinor60}
        barPx={10.5}
        bins={toBins(p60Rate)}
        tag="60 °C"
        tagDx={10}
        tagW={201}
      />
    </div>
  );
}
